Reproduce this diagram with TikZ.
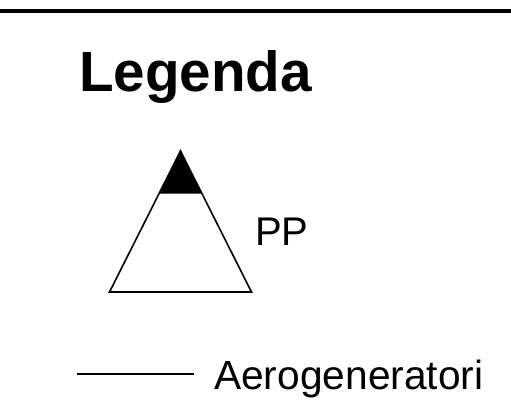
\documentclass[tikz,border=0pt]{standalone}
\usepackage{fontspec}
\setmainfont{Liberation Sans}
\tikzset{lbl/.style={inner sep=0pt,anchor=base west,text=black},
tri/.style={draw=black,line width=1.6pt,line join=miter,fill=white}}
\begin{document}
\begin{tikzpicture}[x=1pt,y=-1pt]
\useasboundingbox (0,0) rectangle (511,405);
\fill[white] (0,0) rectangle (511,405);
\coordinate (rl) at (0,11);
\coordinate (rr) at (511,11);
\draw[line width=4.5pt] (rl) -- (rr);
\node[lbl,font=\bfseries\fontsize{56.6}{60}\selectfont] (title) at (78.8,91.5) {Legenda};
\coordinate (apex) at (180.5,151);
\coordinate (bl) at (109.5,292);
\coordinate (br) at (251.5,292);
\draw[tri] (apex) -- (bl) -- (br) -- cycle;
\fill[black] (apex) -- (159,193.5) -- (202,193.5) -- cycle;
\node[lbl,font=\fontsize{40}{44}\selectfont] (pp) at (255,245.5) {PP};
\coordinate (la) at (77,374.3);
\coordinate (lb) at (194,374.3);
\draw[line width=1.7pt] (la) -- (lb);
\node[lbl,font=\fontsize{40.7}{44}\selectfont] (aero) at (214,389) {Aerogeneratori};
\end{tikzpicture}
\end{document}
